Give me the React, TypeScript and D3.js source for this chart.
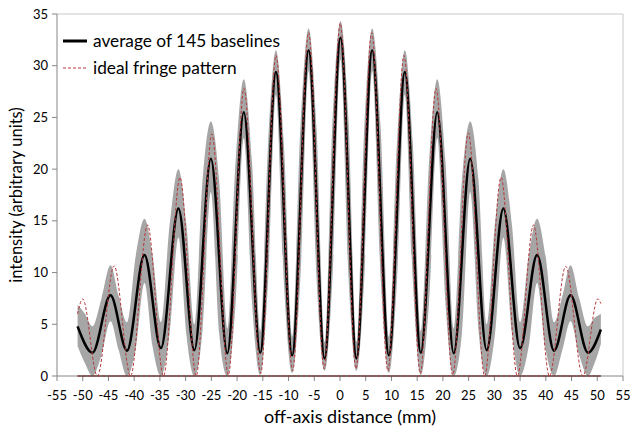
import React from 'react';
import * as d3 from 'd3';

const xTickValues = [-55, -50, -45, -40, -35, -30, -25, -20, -15, -10, -5, 0, 5, 10, 15, 20, 25, 30, 35, 40, 45, 50, 55];
const yTickValues = [0, 5, 10, 15, 20, 25, 30, 35];

// average of 145 baselines (extrema)
const meanX = [-51.0, -48.1, -44.6, -41.4, -38.0, -34.8, -31.4, -28.3, -25.1, -21.9, -18.7, -15.5, -12.45, -9.3, -6.1, -3.0, 0.1,
  3.2, 6.25, 9.5, 12.6, 15.7, 18.9, 22.1, 25.3, 28.5, 31.75, 35.0, 38.3, 41.6, 44.8, 48.2, 50.7];
const meanY = [4.8, 2.25, 7.8, 2.45, 11.7, 2.7, 16.2, 2.5, 21.0, 2.2, 25.5, 2.25, 29.4, 2.0, 31.5, 1.7, 32.7,
  1.7, 31.5, 2.0, 29.4, 2.25, 25.5, 2.2, 21.0, 2.5, 16.2, 2.7, 11.7, 2.45, 7.8, 2.25, 4.5];

// ideal fringe pattern
const idealX = [-51.0, -50.0, -47.15, -43.9, -40.7, -37.4, -34.3, -31.1, -27.95, -24.9, -21.7, -18.66, -15.4, -12.44, -9.2, -6.1, -3.1, 0.05,
  3.1, 6.15, 9.3, 12.44, 15.6, 18.66, 21.9, 24.94, 28.1, 31.3, 34.47, 37.6, 40.7, 43.86, 47.2, 50.1, 50.7];
const idealY = [6.0, 7.45, 0, 10.65, 0, 14.6, 0, 19.2, 0, 23.4, 0.1, 27.8, 0.25, 31.0, 0.5, 33.2, 0.7, 34.1,
  0.7, 33.2, 0.5, 31.0, 0.25, 27.8, 0.1, 23.5, 0, 19.2, 0, 14.6, 0, 10.6, 0, 7.45, 7.0];

// spread of the baselines (grey band)
const bandX = [-51.0, -49.55, -48.1, -46.35, -44.6, -43.0, -41.4, -39.7, -38.0, -36.4, -34.8, -33.1, -31.4, -29.85, -28.3, -26.7,
  -25.1, -23.5, -21.9, -20.3, -18.7, -17.1, -15.5, -13.97, -12.45, -10.9, -9.3, -7.7, -6.1, -4.55, -3.0, -1.45, 0.1,
  1.65, 3.2, 4.7, 6.25, 7.9, 9.5, 11.05, 12.6, 14.15, 15.7, 17.3, 18.9, 20.5, 22.1, 23.7, 25.3, 26.9, 28.5, 30.1,
  31.75, 33.4, 35.0, 36.65, 38.3, 39.95, 41.6, 43.2, 44.8, 46.5, 48.2, 49.45, 50.7];
const bandLo = [2.9, 1.2, 0, 2.0, 5.3, 2.5, 0, 2.6, 9.0, 2.8, 0, 4.2, 13.4, 4.0, 0, 4.5,
  17.8, 4.2, 0, 7.0, 23.0, 7.1, 0.1, 9.2, 27.2, 9.0, 0.3, 9.5, 29.5, 9.3, 0.5, 9.6, 30.6,
  9.6, 0.5, 9.3, 29.5, 9.5, 0.3, 9.0, 27.2, 9.2, 0.1, 7.1, 23.0, 7.0, 0, 4.2, 17.8, 4.5, 0, 4.0,
  13.4, 4.2, 0, 2.8, 9.0, 2.6, 0, 2.5, 5.3, 2.0, 0, 1.2, 3.1];
const bandHi = [6.9, 6.0, 4.8, 7.5, 10.7, 7.7, 5.2, 11.6, 15.2, 11.6, 5.2, 14.7, 20.0, 14.7, 5.0, 19.0,
  24.6, 19.0, 4.6, 20.7, 28.7, 20.7, 4.3, 22.5, 31.5, 22.4, 3.8, 24.0, 33.6, 23.9, 3.3, 24.8, 34.3,
  24.8, 3.3, 23.9, 33.6, 24.0, 3.8, 22.4, 31.5, 22.5, 4.3, 20.7, 28.7, 20.7, 4.6, 19.0, 24.6, 19.0, 5.0, 14.7,
  20.0, 14.7, 5.2, 11.6, 15.2, 11.6, 5.2, 7.7, 10.7, 7.5, 4.8, 5.6, 6.0];

const legendLabels = ['average of 145 baselines', 'ideal fringe pattern'];

const W = 630, H = 432;
const M = { left: 57, right: 623, top: 14, bottom: 376 };
const FONT = 'Lato, "Open Sans", sans-serif';
const RED = '#b5383a';

export default function App() {
  const x = d3.scaleLinear().domain([-55, 55]).range([M.left, M.right]);
  const y = d3.scaleLinear().domain([0, 35]).range([M.bottom, M.top]);

  const band = d3.area<number>()
    .x((_, i) => x(bandX[i]))
    .y0((_, i) => y(bandLo[i]))
    .y1((_, i) => y(bandHi[i]))
    .curve(d3.curveMonotoneX)(bandX) as string;

  const meanLine = d3.line<number>()
    .x((_, i) => x(meanX[i]))
    .y((_, i) => y(meanY[i]))
    .curve(d3.curveMonotoneX)(meanX) as string;

  const idealLine = d3.line<number>()
    .x((_, i) => x(idealX[i]))
    .y((_, i) => y(idealY[i]))
    .curve(d3.curveMonotoneX)(idealX) as string;

  const x0 = x(meanX[0]);
  const x1 = x(meanX[meanX.length - 1]);

  return (
    <svg width={W} height={H} style={{ position: 'fixed', left: 0, top: 0, background: '#fff' }}>
      <defs>
        <filter id="soft" x="-5%" y="-5%" width="110%" height="110%">
          <feGaussianBlur stdDeviation="0.7" />
        </filter>
      </defs>
      {/* plot frame */}
      <line x1={M.left} x2={M.right} y1={M.top} y2={M.top} stroke="#c8c8c8" strokeWidth={1} />
      <line x1={M.right} x2={M.right} y1={M.top} y2={M.bottom} stroke="#c8c8c8" strokeWidth={1} />

      <path d={band} fill="#a6a6a6" filter="url(#soft)" />

      {/* axes */}
      <line x1={M.left} x2={M.left} y1={M.top} y2={M.bottom} stroke="#868686" strokeWidth={1} />
      <line x1={M.left} x2={M.right} y1={M.bottom} y2={M.bottom} stroke="#868686" strokeWidth={1} />
      {yTickValues.map(v => (
        <g key={'y' + v}>
          <line x1={M.left - 5} x2={M.left} y1={y(v)} y2={y(v)} stroke="#868686" />
          <text x={M.left - 9} y={y(v)} dy="0.35em" textAnchor="end" fontFamily={FONT} fontSize={13} fill="#000">{v}</text>
        </g>
      ))}
      {xTickValues.map(v => (
        <g key={'x' + v}>
          <line x1={x(v)} x2={x(v)} y1={M.bottom} y2={M.bottom + 5} stroke="#868686" />
          <text x={x(v)} y={M.bottom + 19} dy="0.35em" textAnchor="middle" fontFamily={FONT} fontSize={13} fill="#000">{v}</text>
        </g>
      ))}

      {/* zero line of series */}
      <line x1={x0} x2={x1} y1={y(0)} y2={y(0)} stroke="#222" strokeWidth={1.2} />

      <path d={meanLine} fill="none" stroke="#000" strokeWidth={2.5} strokeLinejoin="round" />
      <path d={idealLine} fill="none" stroke={RED} strokeWidth={1} strokeDasharray="3,2" />
      <line x1={x0} x2={x1} y1={y(0)} y2={y(0)} stroke={RED} strokeWidth={1} strokeDasharray="3,2" />

      {/* legend */}
      <line x1={63} x2={87} y1={41} y2={41} stroke="#000" strokeWidth={3} />
      <text x={93} y={41} dy="0.35em" fontFamily={FONT} fontSize={17.3} fill="#000">{legendLabels[0]}</text>
      <line x1={63} x2={87} y1={68} y2={68} stroke={RED} strokeWidth={1} strokeDasharray="3,2" />
      <text x={93} y={68} dy="0.35em" fontFamily={FONT} fontSize={17.3} fill="#000">{legendLabels[1]}</text>

      {/* axis titles */}
      <text x={350} y={423} textAnchor="middle" fontFamily={FONT} fontSize={18} fill="#000">off-axis distance (mm)</text>
      <text transform={`translate(22,${(M.top + M.bottom) / 2}) rotate(-90)`} textAnchor="middle" fontFamily={FONT} fontSize={16.5} fill="#000">intensity (arbitrary units)</text>
    </svg>
  );
}
